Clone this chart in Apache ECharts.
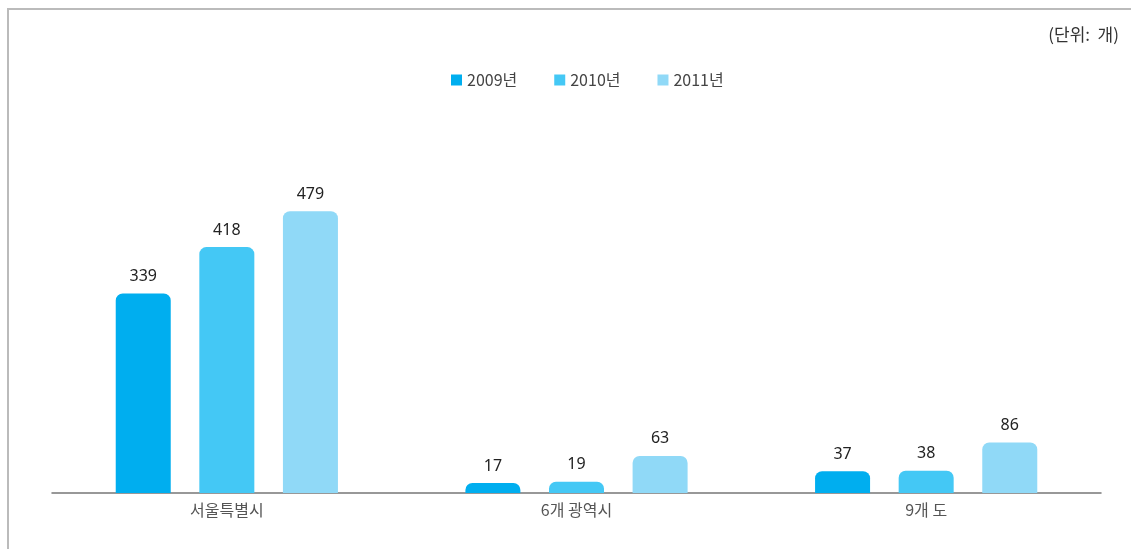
<!DOCTYPE html>
<html>
<head>
<meta charset="utf-8">
<script src="https://cdn.jsdelivr.net/npm/echarts@6/dist/echarts.min.js"></script>
<style>
html,body{margin:0;padding:0;background:#fff;}
#c{width:1131px;height:549px;}
</style>
</head>
<body>
<div id="c"></div>
<script>
const categories = ['서울특별시', '6개 광역시', '9개 도'];
const seriesNames = ['2009년', '2010년', '2011년'];
const values2009 = [339, 17, 37];
const values2010 = [418, 19, 38];
const values2011 = [479, 63, 86];
const unitText = '(단위:  개)';

const colors = ['#00AEEF', '#44C8F5', '#90D9F7'];
const font = '"Noto Sans CJK KR", "Noto Sans", sans-serif';

const chart = echarts.init(document.getElementById('c'), null, {renderer: 'canvas'});
const dataSets = [values2009, values2010, values2011];

chart.setOption({
  animation: false,
  backgroundColor: '#fff',
  color: colors,
  textStyle: {fontFamily: font},
  graphic: [
    {type: 'line', shape: {x1: 7, y1: 9, x2: 1131, y2: 9}, style: {stroke: '#BBBBBB', lineWidth: 2}},
    {type: 'line', shape: {x1: 8, y1: 8, x2: 8, y2: 549}, style: {stroke: '#BBBBBB', lineWidth: 2}},
    {type: 'text', right: 12, top: 26, style: {text: unitText, fill: '#333', font: '17px ' + font}}
  ],
  legend: {
    top: 67,
    left: 446,
    itemWidth: 11,
    itemHeight: 11,
    itemGap: 37,
    icon: 'rect',
    textStyle: {color: '#444', fontSize: 16, fontFamily: font},
    data: seriesNames
  },
  grid: {left: 52, right: 30, top: 140, bottom: 56},
  xAxis: {
    type: 'category',
    data: categories,
    axisLine: {lineStyle: {color: '#777', width: 1.5}},
    axisTick: {show: false},
    axisLabel: {color: '#555', fontSize: 16, margin: 9, fontFamily: font}
  },
  yAxis: {
    type: 'value',
    min: 0,
    max: 600,
    show: false,
    splitLine: {show: false}
  },
  series: seriesNames.map((n, i) => ({
    name: n,
    type: 'bar',
    data: dataSets[i],
    barWidth: 55,
    barGap: '52%',
    itemStyle: {color: colors[i], borderRadius: [7, 7, 0, 0]},
    label: {
      show: true,
      position: 'top',
      distance: 9,
      color: '#222',
      fontSize: 16,
      fontFamily: '"Noto Sans", sans-serif'
    }
  }))
});
</script>
</body>
</html>
